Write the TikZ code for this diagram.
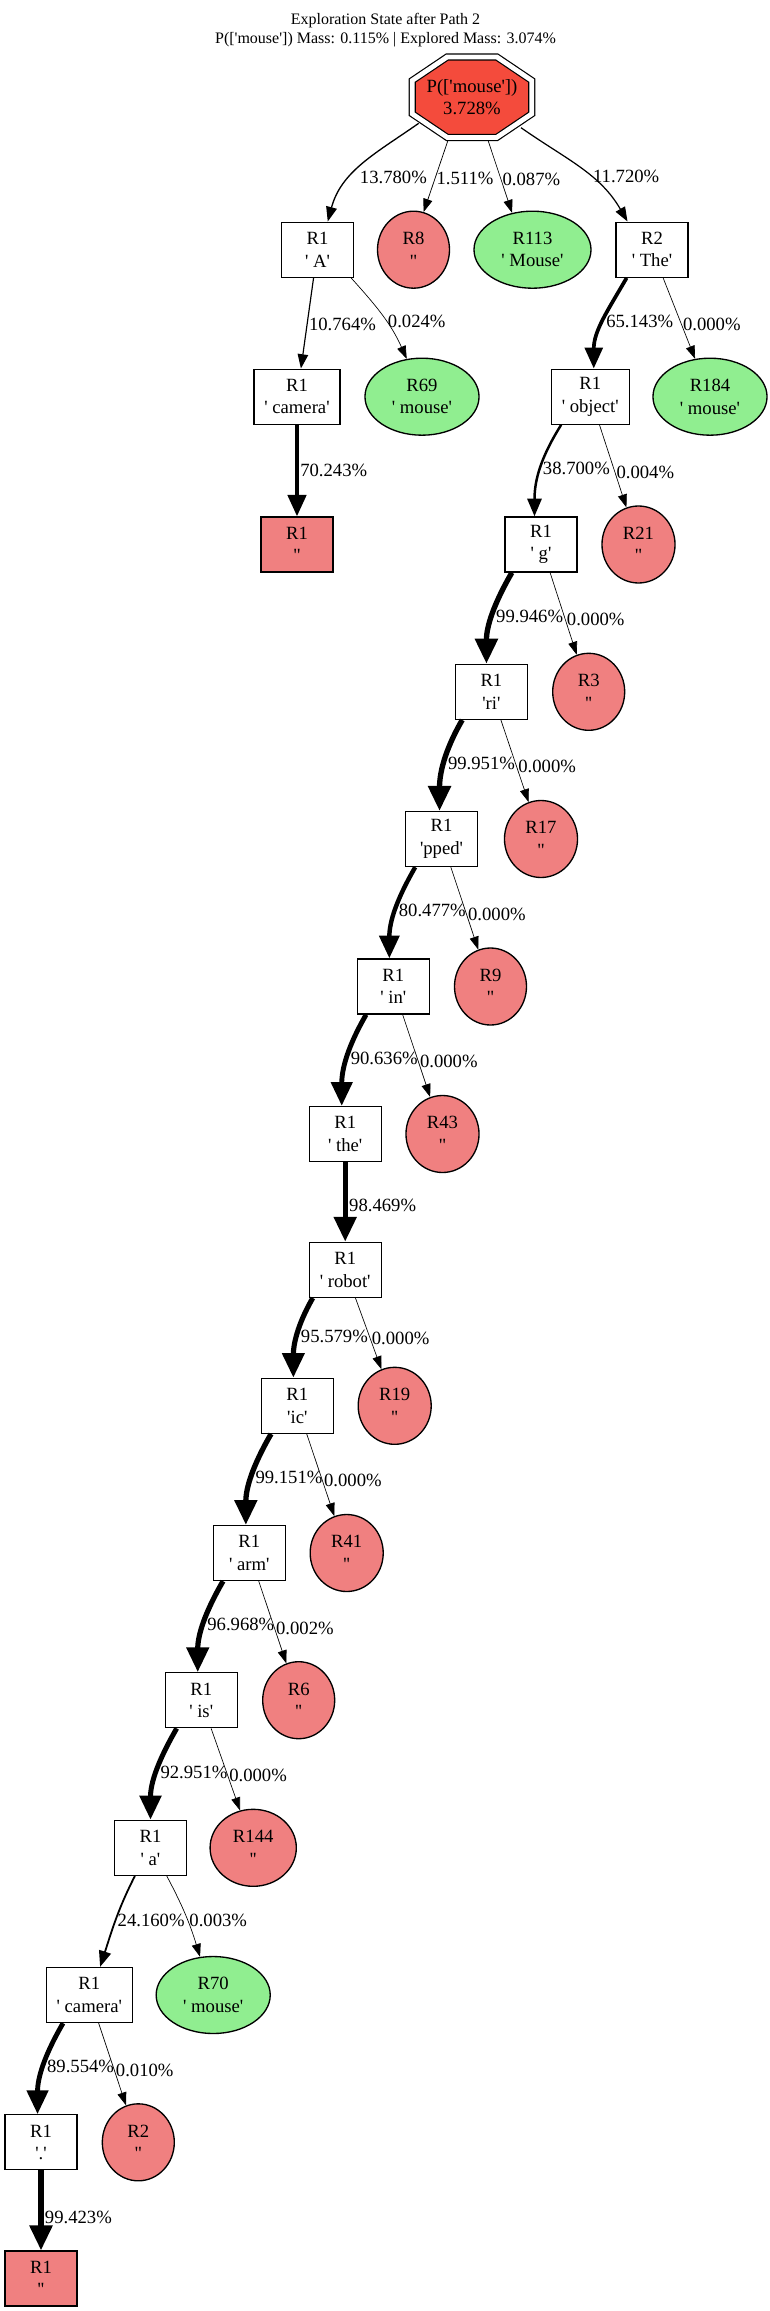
\documentclass[tikz,border=0pt]{standalone}
\usepackage{fontspec}
\newfontfamily\gvfont{Liberation Serif}
\usetikzlibrary{shapes.geometric,arrows.meta,backgrounds}
\usepackage{xcolor}
\definecolor{rootred}{HTML}{F44B3C}
\definecolor{deadred}{HTML}{F08080}
\definecolor{hitgreen}{HTML}{90EE90}

\begin{document}
\begin{tikzpicture}[x=0.75pt, y=-0.75pt]
    \tikzstyle{tok} = [rectangle, draw, line width=1pt, fill=white,
    minimum width=54pt, minimum height=41.25pt, inner xsep=7.8pt,
               align=center,
               font=\gvfont\fontsize{14pt}{16.8pt}\selectfont]
    \tikzstyle{stop} = [tok, fill=deadred]
    \tikzstyle{dead} = [ellipse, draw, line width=1pt, fill=deadred,
    minimum width=54pt, minimum height=57.75pt, inner xsep=7.7pt,
               align=center,
               font=\gvfont\fontsize{14pt}{16.8pt}\selectfont]
    \tikzstyle{hit} = [dead, fill=hitgreen]
    \tikzstyle{lbl} = [font=\gvfont\fontsize{14pt}{16.8pt}\selectfont,
    anchor=west, inner sep=1pt, pos=.5]
    \tikzstyle{link} = [draw, -{Triangle[length=8.5pt 2.55, width=5.4pt 2.8]}]
    \tikzset{pen/.style={line width={0.5pt+3.5pt*#1/100}}}

    \useasboundingbox (0,0) rectangle (769,2311);

    % Title
    \node[font=\gvfont\fontsize{12pt}{14.4pt}\selectfont, align=center]
    (title) at (385.5,30) {Exploration State after Path 2\\P(['mouse']) Mass: 0.115\% | Explored Mass: 3.074\%};

    % Root
    \node[font=\gvfont\fontsize{14pt}{16.3pt}\selectfont, align=center,
    minimum width=95pt, minimum height=66pt] (root) at (472,97.2) {P(['mouse'])\\3.728\%};
    \begin{pgfonlayer}{background}
      \draw[line width=0.9pt, double, double distance=3.6pt, fill=rootred,
      shift={(root.center)}] (22.5:64.67 and 43.57)
      \foreach \k in {1,...,7} {-- (22.5+45*\k:64.67 and 43.57)} -- cycle;
    \end{pgfonlayer}

    % First level
    \node[tok] (tA) at (317.5,249.7) {R1\\' A'};
    \node[dead] (r8) at (413.5,249.7) {R8\\''};
    \node[hit] (r113) at (532.5,249.7) {R113\\' Mouse'};
    \node[tok] (tThe) at (652,249.7) {R2\\' The'};

    % Second level
    \node[tok] (tcam) at (297,396.7) {R1\\' camera'};
    \node[hit] (r69) at (422,396.7) {R69\\' mouse'};
    \node[tok] (tobj) at (590.3,396.7) {R1\\' object'};
    \node[hit] (r184) at (710,396.7) {R184\\' mouse'};

    % Main path
    \node[stop] (endA) at (297,544.5) {R1\\''};
    \node[tok] (tg) at (541,544.5) {R1\\' g'};
    \node[dead] (r21) at (638.5,544.5) {R21\\''};
    \node[tok] (tri) at (491.4,691.8) {R1\\'ri'};
    \node[dead] (r3) at (588.7,691.8) {R3\\''};
    \node[tok] (tpped) at (441.5,839) {R1\\'pped'};
    \node[dead] (r17) at (541,839) {R17\\''};
    \node[tok] (tin) at (393.3,986.5) {R1\\' in'};
    \node[dead] (r9) at (490.5,986.5) {R9\\''};
    \node[tok] (tthe) at (345.2,1134) {R1\\' the'};
    \node[dead] (r43) at (442.5,1134) {R43\\''};
    \node[tok] (trobot) at (345.2,1269.8) {R1\\' robot'};
    \node[tok] (tic) at (297.3,1405.8) {R1\\'ic'};
    \node[dead] (r19) at (394.7,1405.8) {R19\\''};
    \node[tok] (tarm) at (249.3,1553) {R1\\' arm'};
    \node[dead] (r41) at (346.7,1553) {R41\\''};
    \node[tok] (tis) at (201.2,1700.2) {R1\\' is'};
    \node[dead] (r6) at (298.7,1700.2) {R6\\''};
    \node[tok] (ta) at (150.5,1847.8) {R1\\' a'};
    \node[dead] (r144) at (253.2,1847.8) {R144\\''};
    \node[tok] (tcamb) at (89.3,1995) {R1\\' camera'};
    \node[hit] (r70) at (213.2,1995) {R70\\' mouse'};
    \node[tok] (tdot) at (41,2142.3) {R1\\'.'};
    \node[dead] (r2) at (138.3,2142.3) {R2\\''};
    \node[stop] (endB) at (41,2278.5) {R1\\''};

    % Edges from the root
    \path[link, pen=13.780] ([shift={(-53.3,26.1)}]root.center) to[out=-145,in=75]
    node[lbl, pos=.64, xshift=6pt] {13.780\%} (tA.70);
    \path[link, pen=1.511] ([shift={(-24.3,44)}]root.center) --
    node[lbl, pos=.53] {1.511\%} (r8.75);
    \path[link, pen=0.087] ([shift={(16.3,44)}]root.center) --
    node[lbl, pos=.53] {0.087\%} (r113.119);
    \path[link, pen=11.720] ([shift={(49,30.5)}]root.center) to[out=-35,in=120]
    node[lbl, pos=.6] {11.720\%} (tThe.131);

    % Edges of the first level
    \path[link, pen=10.764] (tA) -- node[lbl, pos=.51] {10.764\%} (tcam);
    \path[link, pen=0.024] (tA.-40) to[out=-48,in=114] node[lbl, pos=.57] {0.024\%} (r69.112);
    \path[link, pen=65.143] (tThe.-132) to[out=-120,in=90] node[lbl] {65.143\%} (tobj.83);
    \path[link, pen=0.000] (tThe) -- node[lbl, pos=.57] {0.000\%} (r184);

    % Edges of the second level
    \path[link, pen=70.243] (tcam) -- node[lbl] {70.243\%} (endA);
    \path[link, pen=38.700] (tobj.-136) to[out=-122,in=90] node[lbl] {38.700\%} (tg.103);
    \path[link, pen=0.004] (tobj) -- node[lbl, pos=.57] {0.004\%} (r21);

    % Edges down the main path
    \path[link, pen=99.946] (tg.-136) to[out=-120,in=90] node[lbl] {99.946\%} (tri.100);
    \path[link, pen=0.000] (tg) -- node[lbl, pos=.57] {0.000\%} (r3);
    \path[link, pen=99.951] (tri.-136) to[out=-120,in=90] node[lbl] {99.951\%} (tpped.94);
    \path[link, pen=0.000] (tri) -- node[lbl, pos=.57] {0.000\%} (r17);
    \path[link, pen=80.477] (tpped.-133) to[out=-120,in=90] node[lbl] {80.477\%} (tin.98);
    \path[link, pen=0.000] (tpped) -- node[lbl, pos=.57] {0.000\%} (r9);
    \path[link, pen=90.636] (tin.-134) to[out=-120,in=90] node[lbl] {90.636\%} (tthe.97);
    \path[link, pen=0.000] (tin) -- node[lbl, pos=.57] {0.000\%} (r43);
    \path[link, pen=98.469] (tthe) -- node[lbl, pos=.55] {98.469\%} (trobot);
    \path[link, pen=95.579] (trobot.-139) to[out=-120,in=90] node[lbl] {95.579\%} (tic.98);
    \path[link, pen=0.000] (trobot) -- node[lbl, pos=.57] {0.000\%} (r19);
    \path[link, pen=99.151] (tic.-133) to[out=-120,in=90] node[lbl] {99.151\%} (tarm.97);
    \path[link, pen=0.000] (tic) -- node[lbl, pos=.57] {0.000\%} (r41);
    \path[link, pen=96.968] (tarm.-133) to[out=-120,in=90] node[lbl] {96.968\%} (tis.97);
    \path[link, pen=0.002] (tarm) -- node[lbl, pos=.57] {0.002\%} (r6);
    \path[link, pen=92.951] (tis.-131) to[out=-120,in=90] node[lbl] {92.951\%} (ta.90);
    \path[link, pen=0.000] (tis) -- node[lbl, pos=.57] {0.000\%} (r144);
    \path[link, pen=24.160] (ta.-119) to[out=-117,in=72] node[lbl] {24.160\%} (tcamb.69);
    \path[link, pen=0.003] (ta.-60) to[out=-62,in=107] node[lbl, pos=.57] {0.003\%} (r70.109);
    \path[link, pen=89.554] (tcamb.-133) to[out=-120,in=90] node[lbl] {89.554\%} (tdot.97);
    \path[link, pen=0.010] (tcamb) -- node[lbl, pos=.57] {0.010\%} (r2);
    \path[link, pen=99.423] (tdot) -- node[lbl, pos=.59] {99.423\%} (endB);
\end{tikzpicture}
\end{document}
